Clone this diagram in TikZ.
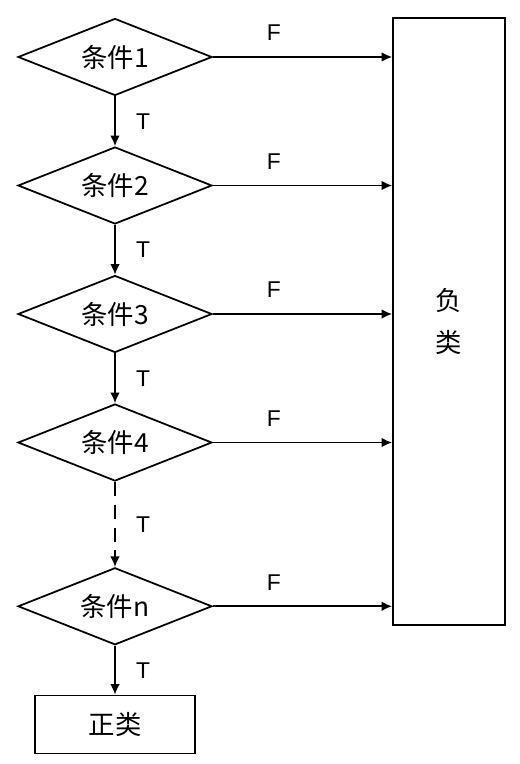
\documentclass[tikz,border=0pt]{standalone}
\usepackage{fontspec}
\setmainfont{Liberation Sans}
\newfontfamily\cjk{Noto Sans CJK SC}
\usetikzlibrary{shapes.geometric,positioning,arrows.meta}
\begin{document}
\begin{tikzpicture}
			[cond/.style={diamond, draw, line width=1pt, aspect=2.5,
				minimum width=3.88cm, minimum height=1.54cm, inner sep=0pt,
				font=\cjk\fontsize{15}{18}\selectfont},
			outbox/.style={rectangle, draw, line width=1pt,
				font=\cjk\fontsize{15}{24}\selectfont},
			flow/.style={-{Latex[length=6pt,width=5.5pt]}, line width=1pt},
			lbl/.style={font=\fontsize{13}{15}\selectfont},
			node distance=0.995cm]
			\useasboundingbox (0,0) rectangle (10.38,-15.28);
			\node[cond] (c1) at (2.30,-1.14) {条件1};
			\node[cond, below=of c1] (c2) {条件2};
			\node[cond, below=of c2] (c3) {条件3};
			\node[cond, below=of c3] (c4) {条件4};
			\node[cond, below=1.70cm of c4] (cn) {条件n};
			\node[outbox, minimum width=3.2cm, minimum height=1.16cm,
				below=0.98cm of cn] (pos) {正类};
			\node[outbox, minimum width=2.24cm, minimum height=12.14cm,
				align=center] (neg) at (8.98,-6.43) {负\\类};
			% T branches
			\draw[flow] (c1) -- (c2) node[lbl, midway, xshift=0.56cm] {T};
			\draw[flow] (c2) -- (c3) node[lbl, midway, xshift=0.56cm] {T};
			\draw[flow] (c3) -- (c4) node[lbl, midway, xshift=0.56cm] {T};
			\draw[flow, dashed, dash pattern=on 8pt off 5pt] (c4) -- (cn)
				node[lbl, midway, xshift=0.56cm] {T};
			\draw[flow] (cn) -- (pos) node[lbl, midway, xshift=0.56cm] {T};
			% F branches
			\foreach \c in {c1,c2,c3,c4,cn}
				\draw[flow] (\c.east) -- (\c.east -| neg.west)
					node[lbl, pos=.34, yshift=0.48cm] {F};
\end{tikzpicture}
\end{document}
